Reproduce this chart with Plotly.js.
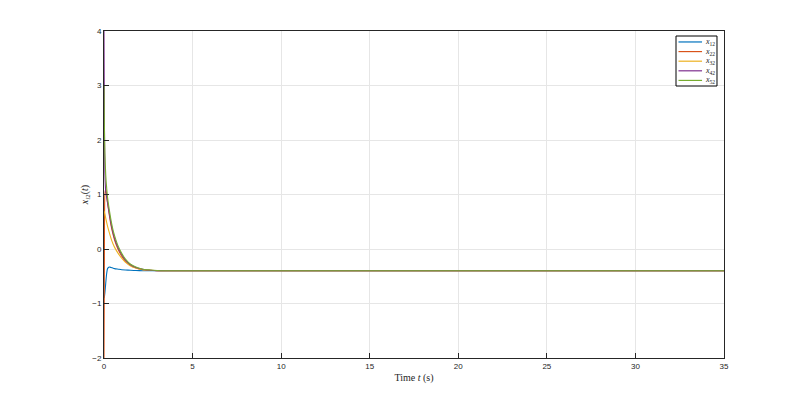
<!DOCTYPE html>
<html><head><meta charset="utf-8">
<script src="https://cdn.plot.ly/plotly-3.0.1.min.js"></script>
<style>body{margin:0;background:#fff}#c{width:800px;height:404px}</style>
</head><body><div id="c"></div>
<script>
const time = [0, 0.02, 0.05, 0.1, 0.15, 0.2, 0.3, 0.4, 0.5, 0.6, 0.8, 1.0, 1.2, 1.5, 1.8, 2.2, 2.6, 3.0, 3.5, 4, 5, 10, 20, 35];
const x12 = [-0.9, -0.88, -0.8, -0.62, -0.45, -0.36, -0.33, -0.34, -0.35, -0.36, -0.37, -0.38, -0.385, -0.39, -0.395, -0.398, -0.4, -0.4, -0.4, -0.4, -0.4, -0.4, -0.4, -0.4];
const x22 = [-2, -0.5, 1.0, 1.1, 1.0, 0.85, 0.62, 0.43, 0.28, 0.16, -0.01, -0.13, -0.22, -0.3, -0.35, -0.38, -0.39, -0.397, -0.4, -0.4, -0.4, -0.4, -0.4, -0.4];
const x32 = [0.7, 0.68, 0.64, 0.56, 0.49, 0.42, 0.3, 0.19, 0.1, 0.03, -0.08, -0.17, -0.24, -0.31, -0.35, -0.38, -0.39, -0.397, -0.4, -0.4, -0.4, -0.4, -0.4, -0.4];
const x42 = [4, 2.5, 1.4, 1.05, 0.95, 0.85, 0.65, 0.46, 0.31, 0.19, 0.02, -0.1, -0.2, -0.29, -0.34, -0.37, -0.39, -0.397, -0.4, -0.4, -0.4, -0.4, -0.4, -0.4];
const x52 = [3, 2.3, 1.75, 1.35, 1.12, 0.95, 0.72, 0.52, 0.36, 0.24, 0.05, -0.08, -0.18, -0.28, -0.33, -0.37, -0.385, -0.395, -0.4, -0.4, -0.4, -0.4, -0.4, -0.4];
const names = ['<i>x</i><sub>12</sub>', '<i>x</i><sub>22</sub>', '<i>x</i><sub>32</sub>', '<i>x</i><sub>42</sub>', '<i>x</i><sub>52</sub>'];
const colors = ['#0072BD', '#D95319', '#EDB120', '#7E2F8E', '#77AC30'];
const series = [x12, x22, x32, x42, x52];
const traces = series.map((s, i) => ({
  x: time, y: s, type: 'scatter', mode: 'lines', name: names[i],
  line: {color: colors[i], width: 1.1, shape: 'spline', smoothing: 0.6}
}));
// manual compact legend (MATLAB style)
const legX0 = 0.9226, legX1 = 0.9887, legY0 = 0.8318, legY1 = 0.9847;
const shapes = [{type: 'rect', xref: 'paper', yref: 'paper', x0: legX0, x1: legX1, y0: legY0, y1: legY1,
  line: {color: '#000', width: 1}, fillcolor: '#fff', layer: 'above'}];
const annotations = [];
names.forEach((n, i) => {
  const yy = legY1 - (legY1 - legY0) * (i + 0.62) / 5.2;
  shapes.push({type: 'line', xref: 'paper', yref: 'paper', x0: legX0 + 0.004, x1: legX0 + 0.042, y0: yy, y1: yy,
    line: {color: colors[i], width: 1.2}, layer: 'above'});
  annotations.push({xref: 'paper', yref: 'paper', x: legX0 + 0.043, y: yy, xanchor: 'left', yanchor: 'middle',
    text: n, showarrow: false, font: {family: 'Liberation Serif, serif', size: 8, color: '#262626'}});
});
const tickFont = {family: 'Liberation Sans, Arial, sans-serif', size: 8, color: '#262626'};
const layout = {
  width: 800, height: 404,
  margin: {l: 104, r: 76, t: 31, b: 46},
  paper_bgcolor: '#fff', plot_bgcolor: '#fff',
  showlegend: false, shapes: shapes, annotations: annotations,
  xaxis: {range: [0, 35], dtick: 5, tick0: 0, showgrid: true, gridcolor: '#e6e6e6',
    showline: true, linecolor: '#262626', linewidth: 1, mirror: true, ticks: 'inside', ticklen: 5,
    tickcolor: '#262626', zeroline: false, tickfont: tickFont,
    title: {text: 'Time <i>t</i> (s)', font: {family: 'Liberation Serif, serif', size: 10, color: '#262626'}, standoff: 4}},
  yaxis: {range: [-2, 4], dtick: 1, tick0: 0, showgrid: true, gridcolor: '#e6e6e6',
    showline: true, linecolor: '#262626', linewidth: 1, mirror: true, ticks: 'inside', ticklen: 5,
    tickcolor: '#262626', zeroline: false, tickfont: tickFont,
    title: {text: '<i>x</i><sub><i>i</i>2</sub>(<i>t</i>)', font: {family: 'Liberation Serif, serif', size: 10, color: '#262626'}, standoff: 1}}
};
Plotly.newPlot('c', traces, layout, {displayModeBar: false, staticPlot: true});
</script></body></html>
